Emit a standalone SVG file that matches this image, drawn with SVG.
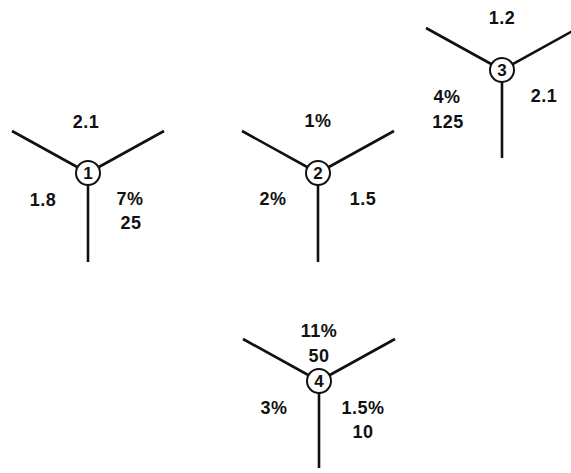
<svg xmlns="http://www.w3.org/2000/svg" width="571" height="473" viewBox="0 0 571 473">
<style>
.arm{stroke:#111;stroke-width:2.6;fill:none}
.hub{fill:#fff;stroke:#111;stroke-width:2}
text{font-family:"Liberation Sans",Arial,sans-serif;font-weight:bold;font-size:18px;fill:#111;text-anchor:middle;letter-spacing:0.5px}
.num{font-size:17px;letter-spacing:0}
</style>
<rect width="571" height="473" fill="#fff"/>
<g id="connectors">
<line class="arm" x1="12" y1="131" x2="88" y2="173"/>
<line class="arm" x1="164" y1="131" x2="88" y2="173"/>
<line class="arm" x1="88" y1="173" x2="88" y2="262"/>
<line class="arm" x1="242" y1="131" x2="318" y2="173"/>
<line class="arm" x1="394" y1="131" x2="318" y2="173"/>
<line class="arm" x1="318" y1="173" x2="318" y2="262"/>
<line class="arm" x1="426" y1="28" x2="502" y2="70"/>
<line class="arm" x1="578" y1="28" x2="502" y2="70"/>
<line class="arm" x1="502" y1="70" x2="502" y2="158"/>
<line class="arm" x1="243" y1="339" x2="319" y2="381"/>
<line class="arm" x1="395" y1="339" x2="319" y2="381"/>
<line class="arm" x1="319" y1="381" x2="319" y2="468"/>
</g>
<g id="node1">
<circle class="hub" cx="88" cy="173" r="12"/>
<text class="num" x="88" y="179">1</text>
<text x="86" y="128">2.1</text>
<text x="43" y="206">1.8</text>
<text x="130" y="205">7%</text>
<text x="131" y="229">25</text>
</g>
<g id="node2">
<circle class="hub" cx="318" cy="173" r="12"/>
<text class="num" x="318" y="179">2</text>
<text x="318" y="127">1%</text>
<text x="273" y="205">2%</text>
<text x="363" y="205">1.5</text>
</g>
<g id="node3">
<circle class="hub" cx="502" cy="70" r="12"/>
<text class="num" x="502" y="76">3</text>
<text x="502" y="24">1.2</text>
<text x="447" y="103">4%</text>
<text x="448" y="128">125</text>
<text x="544" y="102">2.1</text>
</g>
<g id="node4">
<circle class="hub" cx="319" cy="381" r="12"/>
<text class="num" x="319" y="387">4</text>
<text x="319" y="337">11%</text>
<text x="319" y="362">50</text>
<text x="274" y="414">3%</text>
<text x="363" y="414">1.5%</text>
<text x="363" y="438">10</text>
</g>
</svg>
